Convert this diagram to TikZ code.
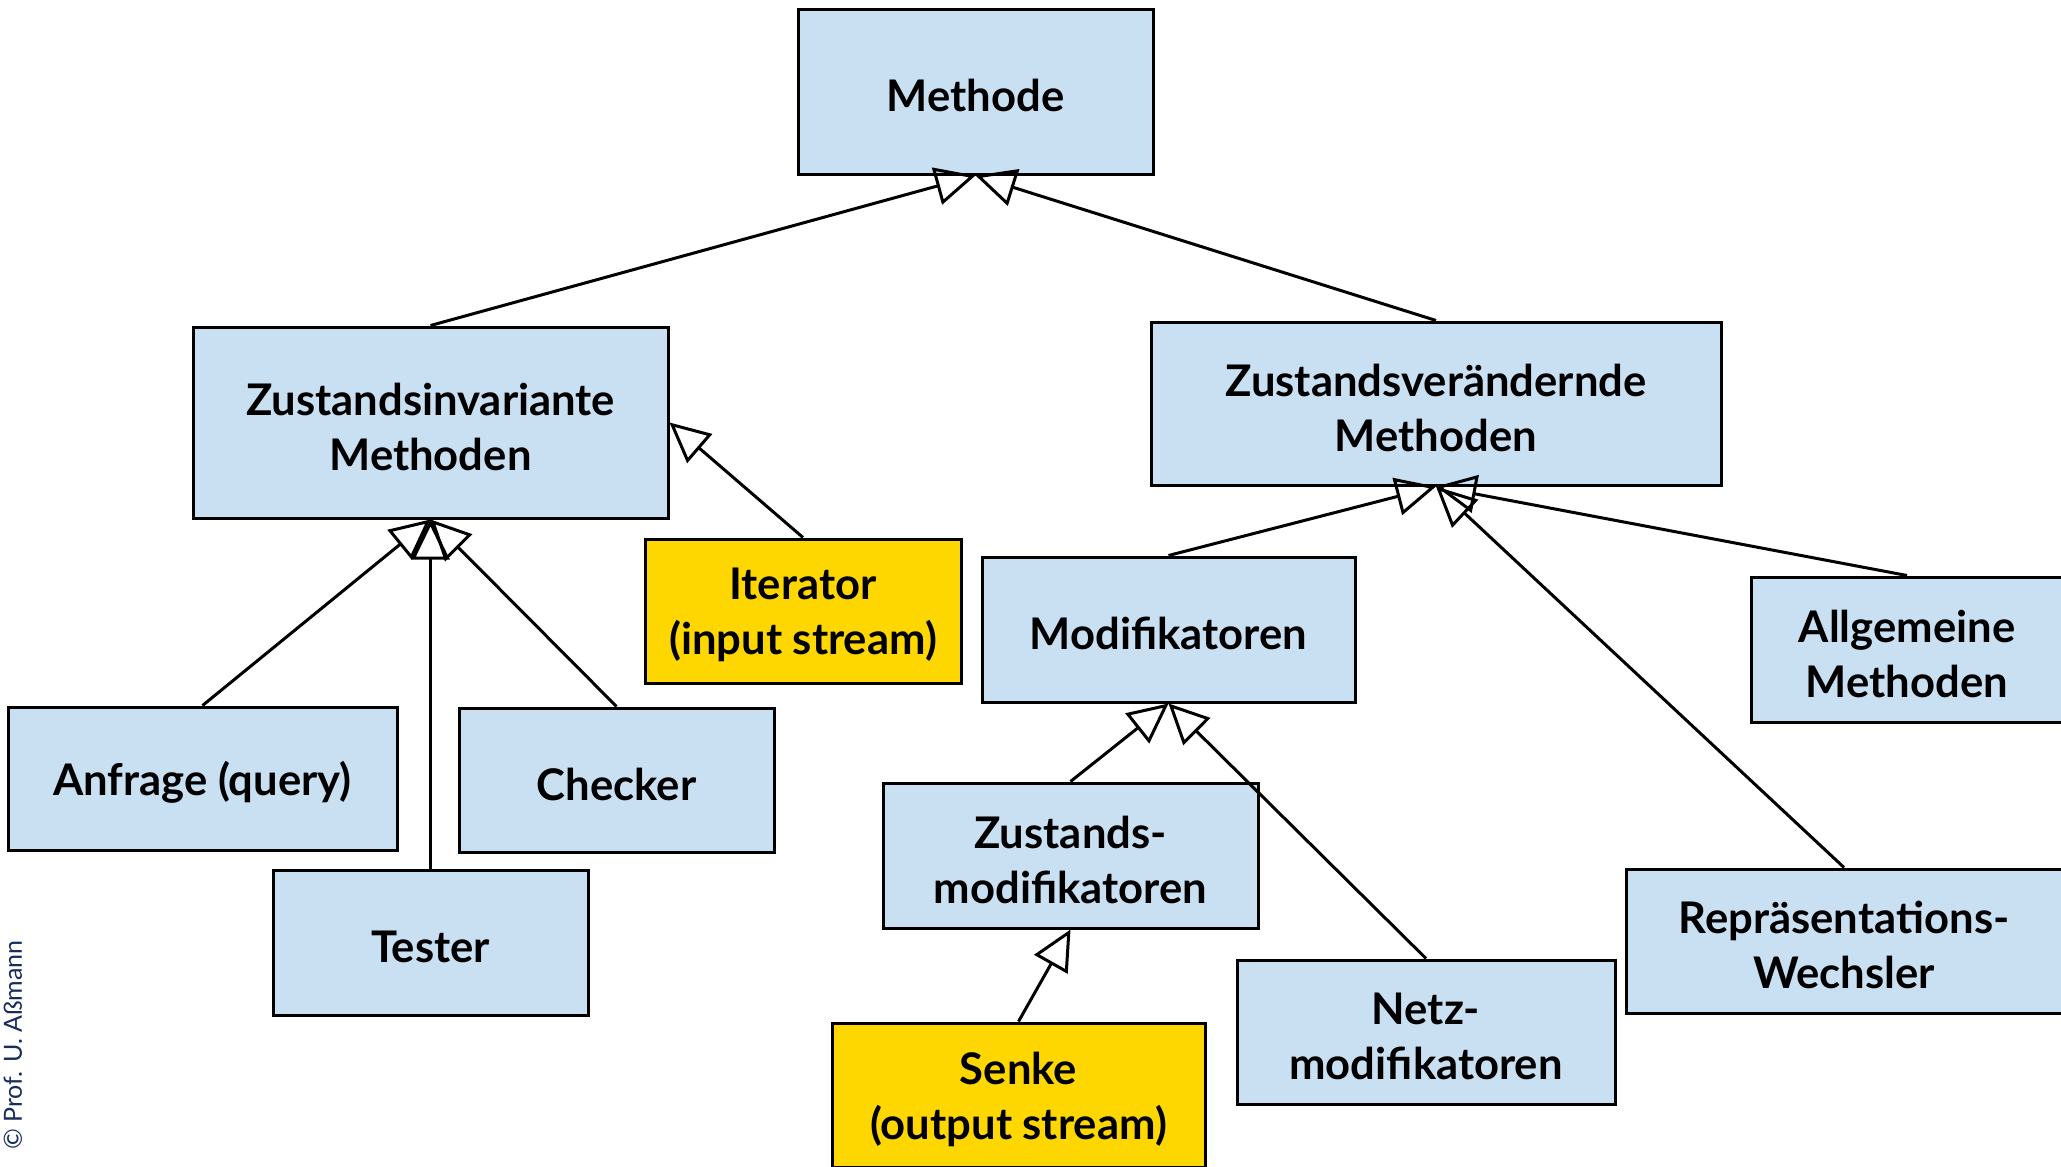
\documentclass[tikz,border=0pt]{standalone}
\usepackage{fontspec}
\setmainfont{Lato}
\usetikzlibrary{arrows.meta}
\definecolor{boxblue}{RGB}{201,223,242}
\definecolor{boxyellow}{RGB}{255,215,0}
\definecolor{copyblue}{RGB}{25,45,90}
\begin{document}
\begin{tikzpicture}[x=0.5pt,y=-0.5pt,
  box/.style={draw=black, line width=1.5pt, fill=boxblue, inner sep=0pt},
  ybox/.style={box, fill=boxyellow},
  lbl/.style={inner sep=0pt, align=center, yshift=-2pt,
    font=\fontsize{21.8}{27.5}\selectfont\bfseries},
  sz/.style 2 args={minimum width=#1, minimum height=#2},
  inh/.style={-{Triangle[open,length=20pt,width=19pt]}, line width=1.5pt}]
\useasboundingbox (0,0) rectangle (2061,1167);
\fill[white] (0,0) rectangle (2061,1167);

\node[box, sz={177.5pt}{82.5pt}, label={[lbl]center:Methode}] (met) at (975.5,91.5) {};
\node[box, sz={237.5pt}{95.5pt}, label={[lbl]center:Zustandsinvariante\\Methoden}] (zi) at (430.5,422.5) {};
\node[box, sz={285pt}{81.5pt}, label={[lbl]center:Zustandsverändernde\\Methoden}] (zv) at (1436,403.5) {};
\node[ybox, sz={158pt}{72pt}, label={[lbl]center:Iterator\\(input stream)}] (it) at (803,611) {};
\node[box, sz={186.5pt}{72.5pt}, label={[lbl]center:Modifikatoren}] (mod) at (1168.5,629.5) {};
\node[box, sz={156pt}{72.5pt}, label={[lbl]center:Allgemeine\\Methoden}] (allg) at (1907,649.5) {};
\node[box, sz={194.5pt}{71.5pt}, label={[lbl]center:Anfrage (query)}] (anf) at (202.5,778.5) {};
\node[box, sz={157.5pt}{72pt}, label={[lbl]center:Checker}] (chk) at (616.5,780) {};
\node[box, sz={157.5pt}{72.5pt}, label={[lbl]center:Tester}] (tst) at (430.5,942.5) {};
\node[box, sz={187.5pt}{72.5pt}, label={[lbl]center:Zustands-\\modifikatoren}] (zm) at (1070.5,855.5) {};
\node[box, sz={218pt}{72pt}, label={[lbl]center:Repräsentations-\\Wechsler}] (rep) at (1844,941) {};
\node[box, sz={189pt}{72pt}, label={[lbl]center:Netz-\\modifikatoren}] (netz) at (1426,1032) {};
\node[ybox, sz={186.5pt}{72pt}, label={[lbl]center:Senke\\(output stream)}] (senke) at (1018.5,1095) {};

\draw[inh] (zi.north) -- (met.south);
\draw[inh] (zv.north) -- (met.south);
\draw[inh] (it.north) -- (zi.east);
\draw[inh] (anf.north) -- (zi.south);
\draw[inh] (tst.north) -- (zi.south);
\draw[inh] (chk.north) -- (zi.south);
\draw[inh] (mod.north) -- (zv.south);
\draw[inh] (allg.north) -- (zv.south);
\draw[inh] (rep.north) -- (zv.south);
\draw[inh] (zm.north) -- (mod.south);
\draw[inh] (netz.north) -- (mod.south);
\draw[inh] (senke.north) -- (zm.south);

\node[rotate=90, text=copyblue, inner sep=0pt, font=\fontsize{12.5}{15}\selectfont] (copy) at (13,1045) {© Prof. U. Aßmann};
\end{tikzpicture}
\end{document}
